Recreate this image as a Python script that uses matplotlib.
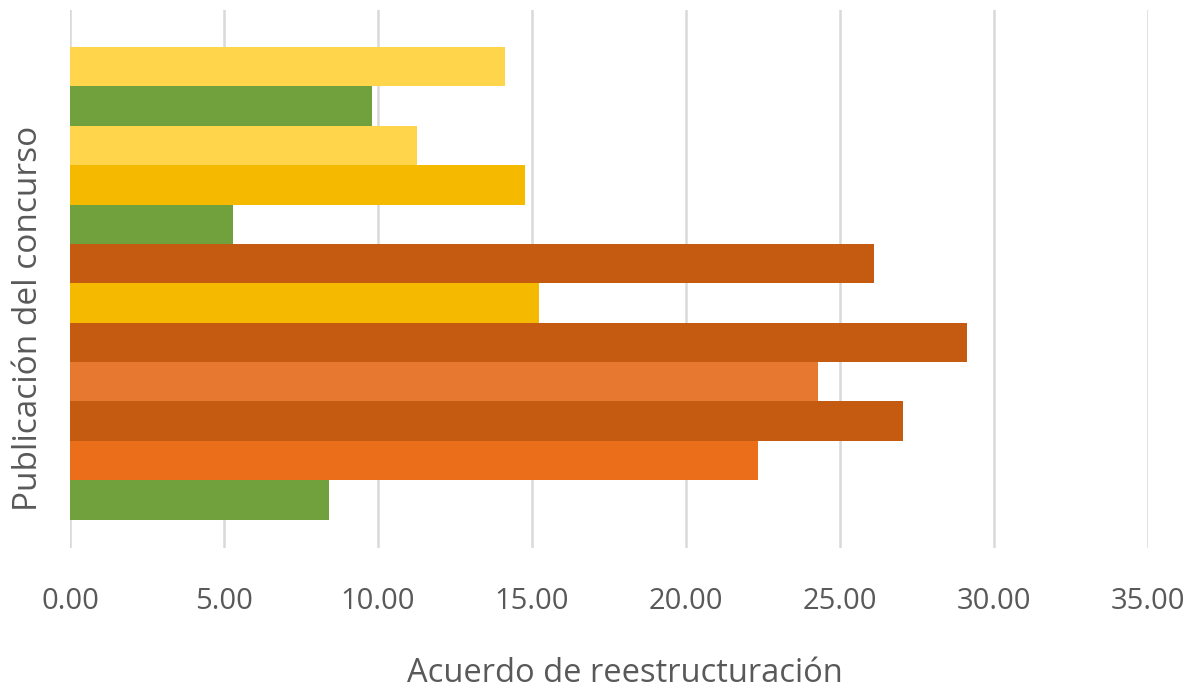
import numpy as np
import matplotlib
matplotlib.use('Agg')
import matplotlib.pyplot as plt

plt.rcParams['font.family'] = ['Open Sans', 'DejaVu Sans']

# one bar per row, top to bottom
valores = [14.12, 9.80, 11.27, 14.77, 5.29, 26.10, 15.23, 29.12, 24.30, 27.05, 22.34, 8.41]
colores = ['#FFD54B', '#70A13D', '#FFD54B', '#F5BA00', '#70A13D', '#C55A11',
           '#F5BA00', '#C55A11', '#E67830', '#C55A11', '#EB6F1A', '#70A13D']
xticks = [0, 5, 10, 15, 20, 25, 30, 35]

fig = plt.figure(figsize=(11.89, 6.91), dpi=100)
ax = fig.add_axes([70/1189, 1 - 548/691, (1148 - 70)/1189, (548 - 10)/691])

pos = np.arange(len(valores))
ax.barh(pos, valores, height=1.0, color=colores, zorder=3)

ax.set_xlim(0, 35)
ax.set_ylim(11.5 + 0.72, -0.5 - 0.94)
ax.set_xticks(xticks)
ax.set_xticklabels(['%.2f' % t for t in xticks])
ax.set_yticks([])
ax.grid(axis='x', color='#D9D9D9', linewidth=1.8, zorder=0)
for s in ax.spines.values():
    s.set_visible(False)
ax.tick_params(axis='x', length=0, pad=28, labelsize=21, labelcolor='#595959')

ax.set_xlabel('Acuerdo de reestructuración', fontsize=23.5, color='#595959')
ax.set_ylabel('Publicación del concurso', fontsize=24, color='#595959')
ax.xaxis.set_label_coords(0.515, -0.203)
ax.yaxis.set_label_coords(-0.023, 0.4275)

fig.savefig('out.png', dpi=100)
